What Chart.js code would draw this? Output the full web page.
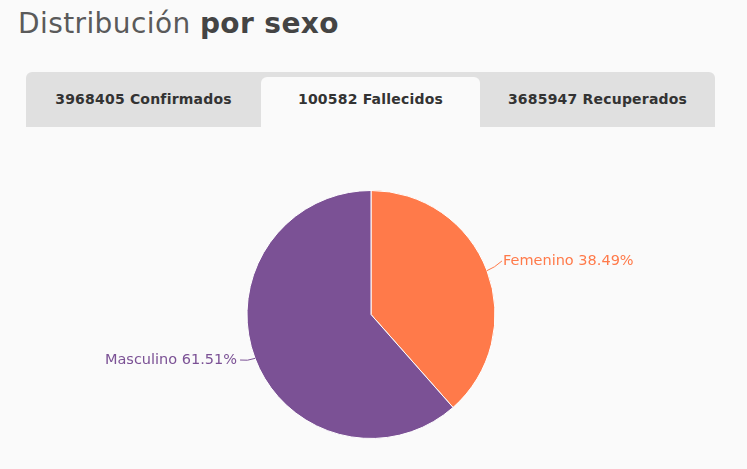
<!DOCTYPE html>
<html>
<head>
<meta charset="utf-8">
<script src="https://cdn.jsdelivr.net/npm/chart.js@4"></script>
<style>
  body { margin: 0; background: #fafafa; font-family: "DejaVu Sans", sans-serif; width: 747px; height: 469px; overflow: hidden; position: relative; }
  h2 { position: absolute; left: 18px; top: 7px; margin: 0; font-size: 28px; font-weight: normal; color: #5a5a5a; letter-spacing: 0.4px; }
  h2 b { color: #444; }
  .tabs { position: absolute; left: 26px; top: 72px; width: 689px; height: 55px; background: #e0e0e0; border-radius: 6px 6px 0 0; }
  .tab { position: absolute; top: 5px; height: 50px; line-height: 45px; text-align: center; font-size: 14px; font-weight: bold; color: #333; letter-spacing: 0.2px; }
  .tab.active { background: #fafafa; border-radius: 6px 6px 0 0; }
  #wrap { position: absolute; left: 0; top: 130px; width: 747px; height: 339px; }
</style>
</head>
<body>
<h2>Distribución <b>por sexo</b></h2>
<div class="tabs">
  <div class="tab" style="left:0;width:235px">3968405 Confirmados</div>
  <div class="tab active" style="left:235px;width:219px">100582 Fallecidos</div>
  <div class="tab" style="left:454px;width:235px">3685947 Recuperados</div>
</div>
<div id="wrap"><canvas id="myChart"></canvas></div>
<script>
const categories = ["Femenino", "Masculino"];
const percentages = [38.49, 61.51];
const colors = ["#ff7a4a", "#7b5195"];

const ctx = document.getElementById("myChart");

// etiquetas con linea guia, tomadas de la geometria de cada arco
const labelLines = {
  id: "labelLines",
  afterDatasetsDraw(chart) {
    const c = chart.ctx;
    chart.getDatasetMeta(0).data.forEach((arc, i) => {
      const p = arc.getProps(["x", "y", "startAngle", "endAngle", "outerRadius"], true);
      const mid = (p.startAngle + p.endAngle) / 2;
      const dx = Math.cos(mid), dy = Math.sin(mid);
      const x0 = p.x + dx * p.outerRadius, y0 = p.y + dy * p.outerRadius;
      const x1 = p.x + dx * (p.outerRadius + 16), y1 = p.y + dy * (p.outerRadius + 16) - 4;
      const right = dx > 0;
      c.save();
      c.strokeStyle = colors[i];
      c.lineWidth = 1;
      c.beginPath();
      c.moveTo(x0, y0);
      c.quadraticCurveTo(x0 + dx * 8, y0 + dy * 8, x1, y1);
      c.stroke();
      c.fillStyle = colors[i];
      c.font = "14.5px 'DejaVu Sans'";
      c.textBaseline = "middle";
      c.textAlign = right ? "left" : "right";
      c.fillText(categories[i] + " " + percentages[i].toFixed(2) + "%", x1 + (right ? 1 : -3), y1);
      c.restore();
    });
  }
};

new Chart(ctx, {
  type: "pie",
  data: {
    labels: categories,
    datasets: [
      {
        data: percentages,
        backgroundColor: colors,
        borderColor: "#ffffff",
        borderWidth: 1,
      },
    ],
  },
  options: {
    responsive: true,
    maintainAspectRatio: false,
    animation: false,
    layout: { padding: { top: 60, bottom: 30, left: 0, right: 5 } },
    plugins: {
      legend: { display: false },
      tooltip: { enabled: false },
    },
  },
  plugins: [labelLines],
});
</script>
</body>
</html>
